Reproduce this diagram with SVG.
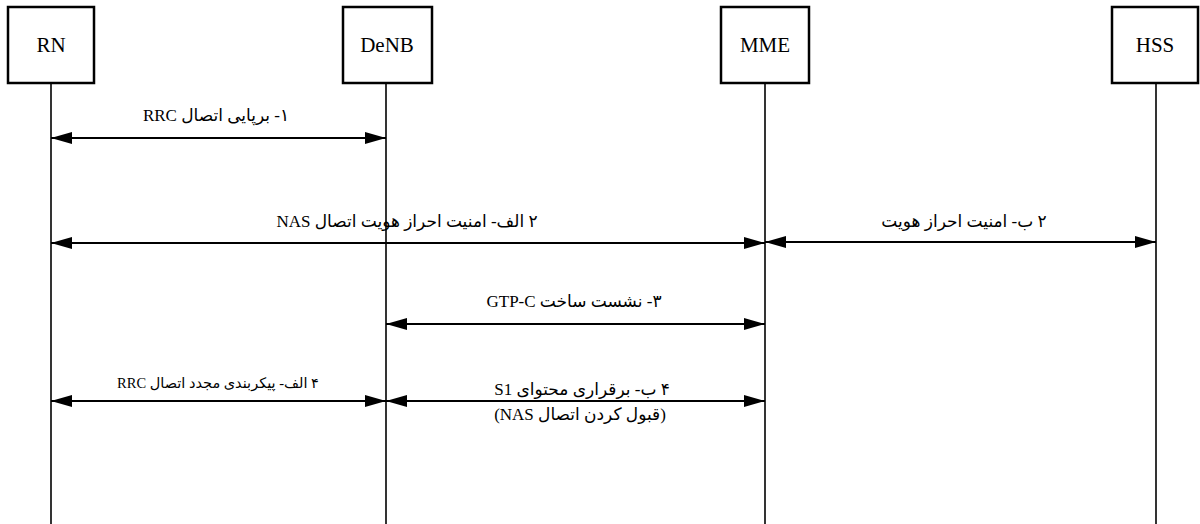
<svg xmlns="http://www.w3.org/2000/svg" width="1200" height="524" viewBox="0 0 1200 524">
<style>
.box{fill:#fff;stroke:#000;stroke-width:2.5}
.life{stroke:#000;stroke-width:1.6}
.msg{stroke:#000;stroke-width:2;marker-start:url(#ah);marker-end:url(#ah)}
.nl{font-family:"Liberation Serif","DejaVu Serif",serif;font-size:21px;text-anchor:middle;fill:#000}
.ml{font-family:"Liberation Serif","DejaVu Sans",serif;font-size:17px;text-anchor:middle;fill:#000}
.sm{font-size:14.5px}
</style>
<defs>
<marker id="ah" viewBox="0 0 21 12" refX="21" refY="6" markerWidth="21" markerHeight="12" markerUnits="userSpaceOnUse" orient="auto-start-reverse">
<path d="M0,0 L21,6 L0,12 Z" fill="#000"/>
</marker>
</defs>
<rect width="1200" height="524" fill="#fff"/>
<g id="lifelines">
<line class="life" x1="51" y1="83" x2="51" y2="524"/>
<line class="life" x1="386" y1="83" x2="386" y2="524"/>
<line class="life" x1="765" y1="83" x2="765" y2="524"/>
<line class="life" x1="1156" y1="83" x2="1156" y2="524"/>
</g>
<g id="RN"><rect class="box" x="8" y="7" width="86" height="76"/><text class="nl" x="51" y="52">RN</text></g>
<g id="DeNB"><rect class="box" x="343" y="7" width="89" height="76"/><text class="nl" x="387" y="52">DeNB</text></g>
<g id="MME"><rect class="box" x="721" y="7" width="88" height="76"/><text class="nl" x="765" y="52">MME</text></g>
<g id="HSS"><rect class="box" x="1112" y="7" width="86" height="76"/><text class="nl" x="1155" y="52">HSS</text></g>
<g id="connectors">
<line class="msg" x1="51" y1="138" x2="386" y2="138"/>
<line class="msg" x1="51" y1="243" x2="765" y2="243"/>
<line class="msg" x1="765" y1="242" x2="1156" y2="242"/>
<line class="msg" x1="386" y1="324" x2="765" y2="324"/>
<line class="msg" x1="51" y1="401" x2="386" y2="401"/>
<line class="msg" x1="386" y1="401" x2="765" y2="401"/>
</g>
<g id="labels">
<text class="ml" direction="rtl" x="216" y="121">۱- برپایی اتصال RRC</text>
<text class="ml" direction="rtl" x="407" y="227">۲ الف- امنیت احراز هویت اتصال NAS</text>
<text class="ml" direction="rtl" x="964" y="227">۲ ب- امنیت احراز هویت</text>
<text class="ml" direction="rtl" x="574" y="307">۳- نشست ساخت GTP-C</text>
<text class="ml sm" direction="rtl" x="218" y="388">۴ الف- پیکربندی مجدد اتصال RRC</text>
<text class="ml" direction="rtl" x="582" y="395">۴ ب- برقراری محتوای S1</text>
<text class="ml" direction="rtl" x="580" y="420">(قبول کردن اتصال NAS)</text>
</g>
</svg>
